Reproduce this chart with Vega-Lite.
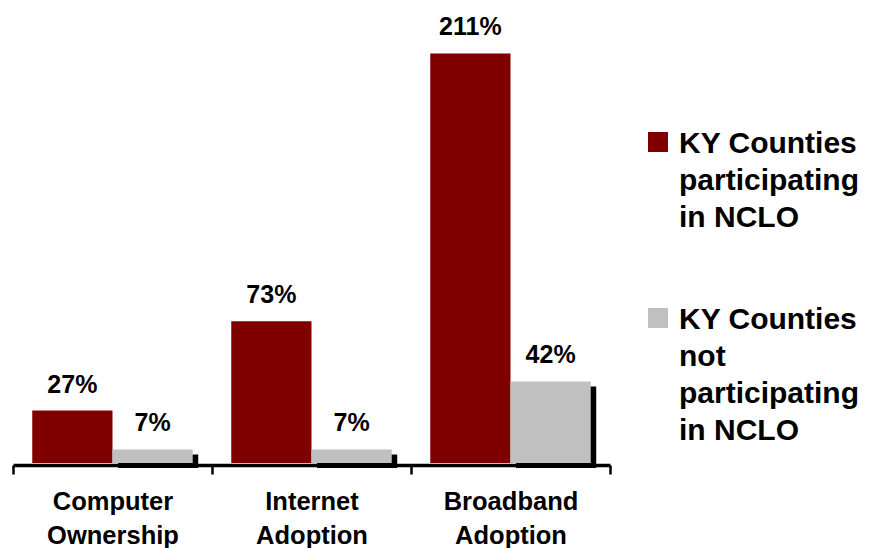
{
  "$schema": "https://vega.github.io/schema/vega-lite/v6.json",
  "width": 597,
  "height": 430,
  "autosize": {"type": "none"},
  "padding": {"left": 13, "top": 33, "right": 261, "bottom": 85},
  "background": "white",
  "config": {"view": {"stroke": null}, "font": "Liberation Sans"},
  "data": {
    "values": [
      {"category": "Computer Ownership", "series": "KY Counties participating in NCLO", "value": 27, "label": "27%"},
      {"category": "Computer Ownership", "series": "KY Counties not participating in NCLO", "value": 7, "label": "7%"},
      {"category": "Internet Adoption", "series": "KY Counties participating in NCLO", "value": 73, "label": "73%"},
      {"category": "Internet Adoption", "series": "KY Counties not participating in NCLO", "value": 7, "label": "7%"},
      {"category": "Broadband Adoption", "series": "KY Counties participating in NCLO", "value": 211, "label": "211%"},
      {"category": "Broadband Adoption", "series": "KY Counties not participating in NCLO", "value": 42, "label": "42%"}
    ]
  },
  "encoding": {
    "x": {
      "field": "category",
      "type": "nominal",
      "sort": null,
      "scale": {"paddingInner": 0, "paddingOuter": 0},
      "axis": {
        "title": null,
        "labelAngle": 0,
        "domainColor": "black",
        "domainWidth": 3.5,
        "ticks": true,
        "tickColor": "black",
        "tickWidth": 2.5,
        "tickSize": 9,
        "tickBand": "extent",
        "offset": 2,
        "labelFont": "Liberation Sans",
        "labelFontSize": 25.5,
        "labelFontWeight": "bold",
        "labelColor": "black",
        "labelPadding": 15,
        "labelLineHeight": 34,
        "labelLimit": 400,
        "labelExpr": "split(datum.label, ' ')"
      }
    },
    "y": {
      "field": "value",
      "type": "quantitative",
      "scale": {"domain": [0, 221.5], "nice": false, "zero": true},
      "axis": null
    }
  },
  "layer": [
    {
      "transform": [{"filter": "datum.series == 'KY Counties not participating in NCLO'"}],
      "mark": {"type": "bar", "color": "black", "width": {"band": 0.4032}, "xOffset": 45.6, "yOffset": 5, "y2Offset": 5},
      "encoding": {}
    },
    {
      "mark": {"type": "bar"},
      "encoding": {
        "xOffset": {"field": "series", "type": "nominal", "sort": null, "scale": {"paddingInner": 0, "paddingOuter": 0.24}},
        "color": {
          "field": "series",
          "type": "nominal",
          "scale": {
            "domain": ["KY Counties participating in NCLO", "KY Counties not participating in NCLO"],
            "range": ["#800000", "#C0C0C0"]
          },
          "legend": {
            "orient": "none",
            "legendX": 630,
            "legendY": 94,
            "title": null,
            "padding": 0,
            "symbolType": "square",
            "symbolSize": 400,
            "symbolStrokeWidth": 0,
            "labelFont": "Liberation Sans",
            "labelFontSize": 30,
            "labelFontWeight": "bold",
            "labelColor": "black",
            "labelBaseline": "top",
            "labelOffset": 6,
            "labelLimit": 400,
            "rowPadding": 70,
            "labelExpr": "datum.label == 'KY Counties participating in NCLO' ? ['KY Counties', 'participating', 'in NCLO'] : ['KY Counties', 'not', 'participating', 'in NCLO']",
            "encode": {"labels": {"update": {"lineHeight": {"value": 37}, "dy": {"value": -13}}}}
          }
        }
      }
    },
    {
      "mark": {"type": "text", "font": "Liberation Sans", "fontSize": 25, "fontWeight": "bold", "color": "black", "align": "center", "baseline": "alphabetic", "dy": -18},
      "encoding": {
        "xOffset": {"field": "series", "type": "nominal", "sort": null, "scale": {"paddingInner": 0, "paddingOuter": 0.24}},
        "text": {"field": "label", "type": "nominal"}
      }
    }
  ]
}
